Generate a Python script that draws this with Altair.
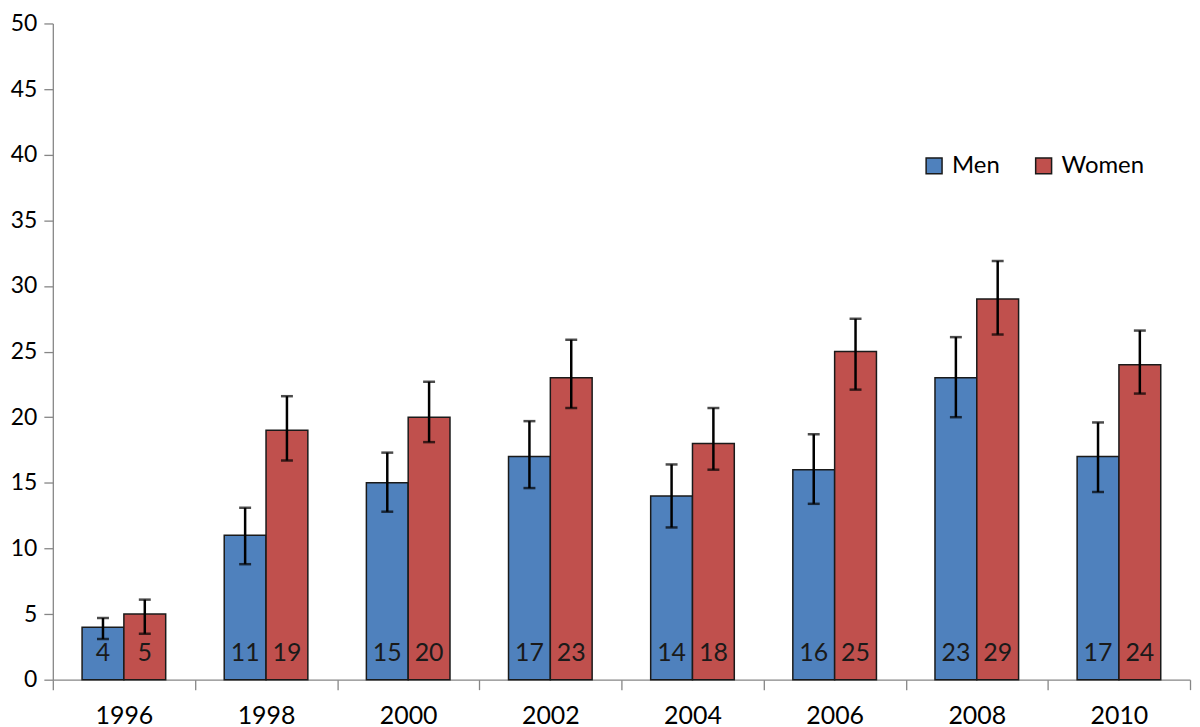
import altair as alt
import pandas as pd

years = ["1996", "1998", "2000", "2002", "2004", "2006", "2008", "2010"]
men = [4, 11, 15, 17, 14, 16, 23, 17]
women = [5, 19, 20, 23, 18, 25, 29, 24]
men_lo = [3.1, 8.8, 12.8, 14.6, 11.6, 13.4, 20.0, 14.3]
men_hi = [4.7, 13.1, 17.3, 19.7, 16.4, 18.7, 26.1, 19.6]
women_lo = [3.5, 16.7, 18.1, 20.7, 16.0, 22.1, 26.3, 21.8]
women_hi = [6.1, 21.6, 22.7, 25.9, 20.7, 27.5, 31.9, 26.6]

rows = []
for i, y in enumerate(years):
    rows.append({"year": y, "sex": "Men", "value": men[i], "lo": men_lo[i], "hi": men_hi[i]})
    rows.append({"year": y, "sex": "Women", "value": women[i], "lo": women_lo[i], "hi": women_hi[i]})
df = pd.DataFrame(rows)

FONT = "Lato"

x_enc = alt.X(
    "year:N",
    sort=years,
    scale=alt.Scale(paddingInner=0, paddingOuter=0),
    axis=alt.Axis(
        title=None,
        labelAngle=0,
        tickBand="extent",
        tickSize=10,
        labelFontSize=25,
        labelPadding=14,
        labelFont=FONT,
    ),
)
xo_enc = alt.XOffset(
    "sex:N",
    scale=alt.Scale(domain=["Men", "Women"], paddingInner=0, paddingOuter=0.7),
)
y_scale = alt.Scale(domain=[0, 50], nice=False)

base = alt.Chart(df)

bars = base.mark_bar(stroke="#1a1a1a", strokeWidth=1.5).encode(
    x=x_enc,
    xOffset=xo_enc,
    y=alt.Y(
        "value:Q",
        scale=y_scale,
        axis=alt.Axis(
            title=None,
            values=[0, 5, 10, 15, 20, 25, 30, 35, 40, 45, 50],
            tickSize=9,
            labelFontSize=23,
            labelPadding=7,
            labelFlush=False,
            labelFont=FONT,
        ),
    ),
    color=alt.Color(
        "sex:N",
        scale=alt.Scale(domain=["Men", "Women"], range=["#4F81BD", "#C0504D"]),
        legend=alt.Legend(
            title=None,
            orient="none",
            legendX=873,
            legendY=131,
            direction="horizontal",
            symbolType="square",
            symbolSize=256,
            symbolStrokeColor="#1a1a1a",
            symbolStrokeWidth=1.5,
            symbolOpacity=1,
            labelFontSize=24,
            labelFont=FONT,
            labelColor="black",
            labelOffset=6,
            columnPadding=32,
            padding=0,
        ),
    ),
)

rule = base.mark_rule(color="black", strokeWidth=2.5).encode(
    x=x_enc, xOffset=xo_enc, y=alt.Y("lo:Q", scale=y_scale), y2="hi:Q"
)
cap_lo = base.mark_tick(color="black", thickness=2.5, size=12, orient="horizontal").encode(
    x=x_enc, xOffset=xo_enc, y=alt.Y("lo:Q", scale=y_scale)
)
cap_hi = base.mark_tick(color="black", thickness=2.5, size=12, orient="horizontal").encode(
    x=x_enc, xOffset=xo_enc, y=alt.Y("hi:Q", scale=y_scale)
)

labels = base.transform_calculate(zero="0").mark_text(
    baseline="alphabetic", dy=-19, fontSize=25, font=FONT, color="#1a1a1a"
).encode(
    x=x_enc,
    xOffset=xo_enc,
    y=alt.Y("zero:Q", scale=y_scale),
    text=alt.Text("value:Q"),
)

chart = (
    alt.layer(bars, rule, cap_lo, cap_hi, labels)
    .properties(
        width=1142,
        height=659,
        autosize=alt.AutoSizeParams(type="none"),
        padding={"left": 45, "top": 14, "right": 2, "bottom": 50},
    )
    .configure_view(strokeWidth=0)
    .configure_axis(
        domainColor="#868686",
        tickColor="#868686",
        domainWidth=1.3,
        tickWidth=1.3,
        labelColor="black",
        grid=False,
    )
)

chart.save("out.html", embed_options={"renderer": "svg", "actions": False})
